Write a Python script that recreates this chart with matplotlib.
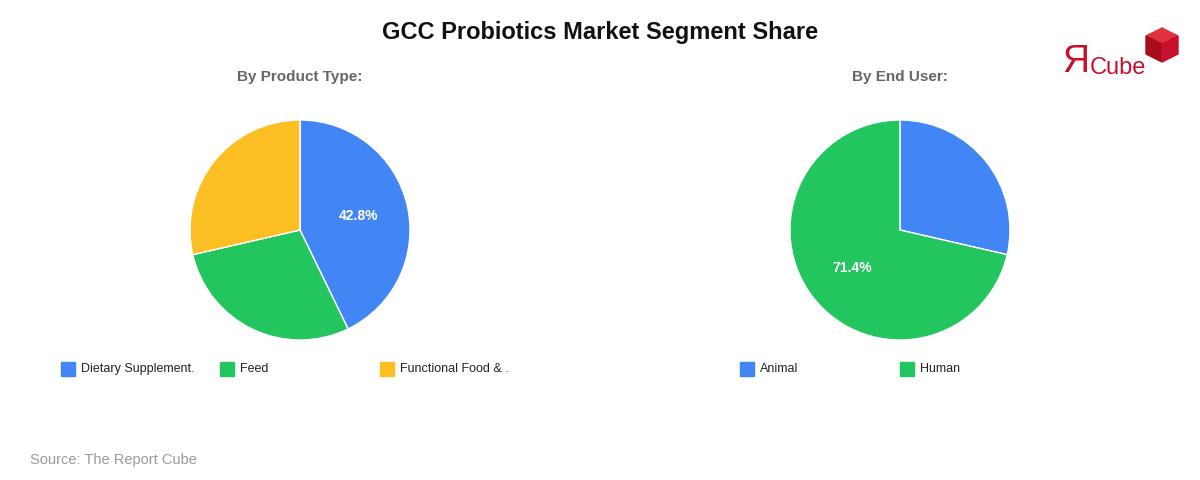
import matplotlib
matplotlib.use("Agg")
import matplotlib.pyplot as plt
from matplotlib.patches import Rectangle, Polygon

plt.rcParams['font.family'] = ['Liberation Sans', 'DejaVu Sans']

title = "GCC Probiotics Market Segment Share"
sub1 = "By Product Type:"
cats1 = ["Dietary Supplement.", "Feed", "Functional Food & ."]
vals1 = [42.8, 28.6, 28.6]
sub2 = "By End User:"
cats2 = ["Animal", "Human"]
vals2 = [28.6, 71.4]
colors = ["#4285F4", "#22C55E", "#FBBF24"]

W, H = 1200, 480
fig = plt.figure(figsize=(12, 4.8), dpi=100)
fig.patch.set_facecolor("white")

def px(x, y, w, h):
    return [x / W, 1 - (y + h) / H, w / W, h / H]

def draw_pie(cx, cats, vals, sub, legx):
    r = 110
    ax = fig.add_axes(px(cx - r, 230 - r, 2 * r, 2 * r))
    mx = max(vals)
    ax.pie(vals, colors=colors[:len(vals)], startangle=90, counterclock=False,
           autopct=lambda p: f"{p:.1f}%" if abs(p - mx) < 0.05 else "", pctdistance=0.55,
           wedgeprops=dict(edgecolor="white", linewidth=1),
           textprops=dict(color="white", fontsize=10, fontweight="bold"))
    ax.set_xlim(-1, 1); ax.set_ylim(-1, 1); ax.set_aspect("equal")
    fig.text(cx / W, 1 - 77 / H, sub, ha="center", va="center", fontsize=11,
             fontweight="bold", color="#666666")
    for i, c in enumerate(cats):
        x0 = legx[i]
        fig.patches.append(Rectangle((x0 / W, 1 - 376 / H), 14 / W, 14 / H,
                                     transform=fig.transFigure, color=colors[i]))
        fig.text((x0 + 20) / W, 1 - 369 / H, c, ha="left", va="center", fontsize=9, color="#222222")

draw_pie(300, cats1, vals1, sub1, [61, 220, 380])
draw_pie(900, cats2, vals2, sub2, [740, 900])

fig.text(0.5, 1 - 33 / H, title, ha="center", va="center", fontsize=17, fontweight="bold", color="#111111")
fig.text(30 / W, 1 - 460 / H, "Source: The Report Cube", ha="left", va="center", fontsize=10.5, color="#999999")

# logo
def P(pts, c):
    fig.patches.append(Polygon([(x / W, 1 - y / H) for x, y in pts], closed=True,
                               transform=fig.transFigure, color=c))
P([(1146, 36), (1162, 28), (1178, 36), (1162, 44)], "#E0323C")
P([(1146, 36), (1162, 44), (1162, 62), (1146, 54)], "#A50E1A")
P([(1162, 44), (1178, 36), (1178, 54), (1162, 62)], "#C8102E")
fig.text(1062 / W, 1 - 62 / H, "Я", ha="left", va="center", fontsize=27, color="#C8102E")
fig.text(1090 / W, 1 - 68 / H, "Cube", ha="left", va="center", fontsize=17, color="#C8102E")

fig.savefig("out.png", dpi=100, facecolor="white")
